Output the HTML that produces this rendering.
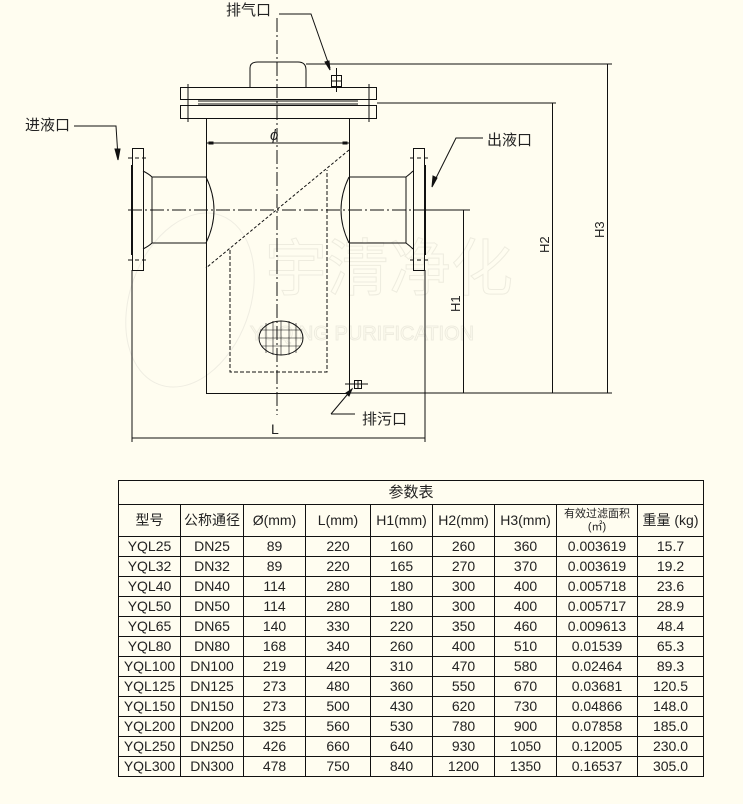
<!DOCTYPE html>
<html><head><meta charset="utf-8"><style>
body{margin:0;background:#fffdf0;width:743px;height:804px;overflow:hidden;position:relative;font-family:"Liberation Sans","Noto Sans CJK SC",sans-serif;}
svg{position:absolute;left:0;top:0}
table{position:absolute;left:118px;top:480px;border-collapse:collapse;font-size:14px;color:#222;}
td{border:1px solid #111;text-align:center;padding:0;height:19px;line-height:19px;white-space:nowrap;overflow:hidden}
</style></head><body>
<svg width="743" height="470" viewBox="0 0 743 470" fill="none" stroke="#111" stroke-width="1">
<text x="265" y="290" font-size="62" fill="none" stroke="#eeecdf" font-family="Noto Sans CJK SC,sans-serif">宇清净化</text>
<text x="250" y="340" font-size="20" fill="none" stroke="#eeecdf" font-family="Liberation Sans,sans-serif">YUQING PURIFICATION</text>
<ellipse cx="190" cy="300" rx="60" ry="90" stroke="#efede2" transform="rotate(20 190 300)"/>
<line x1="277" y1="18" x2="277" y2="415" stroke-dasharray="14,3,2,3"/>
<line x1="128" y1="210" x2="470" y2="210" stroke-dasharray="14,3,2,3"/>
<path d="M250 87 V68 Q250 62 258 62 H298 Q306 62 306 70 V87"/>
<rect x="180.5" y="87.5" width="196" height="12"/>
<rect x="180.5" y="105.5" width="196" height="13"/>
<line x1="198" y1="101" x2="358" y2="101"/><line x1="198" y1="104" x2="358" y2="104"/>
<line x1="188" y1="84" x2="188" y2="122"/><line x1="369" y1="84" x2="369" y2="122"/>
<rect x="331.5" y="75.5" width="10" height="11"/><line x1="331" y1="81" x2="342" y2="81"/><line x1="336.5" y1="68" x2="336.5" y2="92"/>
<rect x="206.5" y="118.5" width="143" height="275"/>
<line x1="206" y1="143" x2="349" y2="143"/><rect x="209" y="142" width="4" height="2" fill="#111"/><rect x="343" y="142" width="4" height="2" fill="#111"/>
<text x="270" y="140" font-size="15" fill="#222" stroke="none" font-style="italic">ϕ</text>
<rect x="132.5" y="148.5" width="11" height="122"/>
<line x1="132" y1="165" x2="132" y2="255" stroke-width="2"/>
<line x1="128" y1="158" x2="147" y2="158" stroke-dasharray="4,3"/><line x1="128" y1="260" x2="147" y2="260" stroke-dasharray="4,3"/>
<path d="M143 171 Q149 174 152 177 H206 M143 249 Q149 246 152 243 H206 M152 177 V243"/>
<path d="M206 177 Q222 210 206 243"/>
<rect x="413.5" y="148.5" width="11" height="122"/>
<line x1="425" y1="165" x2="425" y2="255" stroke-width="2"/>
<line x1="410" y1="158" x2="429" y2="158" stroke-dasharray="4,3"/><line x1="410" y1="260" x2="429" y2="260" stroke-dasharray="4,3"/>
<path d="M349 177 H406 Q410 174 413 171 M349 243 H406 Q410 246 413 249 M406 177 V243"/>
<path d="M349 177 Q333 210 349 243"/>
<line x1="349" y1="150" x2="206" y2="268" stroke-dasharray="3,2"/>
<path d="M230 250 V372 H327 V170" stroke-dasharray="4,2"/>
<ellipse cx="281" cy="338" rx="22" ry="17"/>
<g stroke-width="0.6"><line x1="260" y1="330" x2="302" y2="330"/><line x1="259" y1="338" x2="303" y2="338"/><line x1="261" y1="346" x2="301" y2="346"/>
<line x1="266" y1="323" x2="266" y2="353"/><line x1="273" y1="321" x2="273" y2="355"/><line x1="281" y1="321" x2="281" y2="355"/><line x1="289" y1="321" x2="289" y2="355"/><line x1="296" y1="323" x2="296" y2="353"/></g>
<rect x="354.5" y="380.5" width="7" height="8"/><line x1="345" y1="384" x2="368" y2="384"/><line x1="358" y1="380" x2="358" y2="389"/>
<path d="M331 414 L352 389"/><path d="M352 389 L346 393 L349 396 Z" fill="#111"/><line x1="331" y1="414" x2="355" y2="414"/>
<text x="362" y="424" font-size="15" fill="#222" stroke="none">排污口</text>
<line x1="132" y1="270" x2="132" y2="442"/><line x1="425" y1="270" x2="425" y2="442"/>
<line x1="132" y1="438" x2="425" y2="438"/>
<text x="271" y="434" font-size="14" fill="#222" stroke="none">L</text>
<line x1="349" y1="393" x2="612" y2="393"/>
<line x1="425" y1="210" x2="470" y2="210"/>
<line x1="463.5" y1="210" x2="463.5" y2="393"/>
<line x1="377" y1="103" x2="556" y2="103"/>
<line x1="552.5" y1="103" x2="552.5" y2="393"/>
<line x1="306" y1="64" x2="612" y2="64"/>
<line x1="607.5" y1="64" x2="607.5" y2="393"/>
<text font-size="13" fill="#222" stroke="none" transform="translate(460 312) rotate(-90)">H1</text>
<text font-size="13" fill="#222" stroke="none" transform="translate(549 253) rotate(-90)">H2</text>
<text font-size="13" fill="#222" stroke="none" transform="translate(604 238) rotate(-90)">H3</text>
<text x="226" y="15" font-size="15" fill="#222" stroke="none">排气口</text>
<path d="M279 14 H311 L330 68"/><path d="M330 70 L325 62 L329 61 Z" fill="#111"/>
<text x="25" y="130" font-size="15" fill="#222" stroke="none">进液口</text>
<path d="M74 126 H116 L118 157"/><path d="M118 160 L115 149 L120 149 Z" fill="#111"/>
<text x="487" y="145" font-size="15" fill="#222" stroke="none">出液口</text>
<path d="M483 138 H456 L433 184"/><path d="M432 187 L433 176 L437 178 Z" fill="#111"/>
</svg>
<table>
<tr><td colspan="9" style="height:23px;font-size:15px">参数表</td></tr>
<tr style="height:32px"><td style="width:61px">型号</td><td style="width:62px">公称通径</td><td style="width:61px">Ø(mm)</td><td style="width:64px">L(mm)</td><td style="width:61px">H1(mm)</td><td style="width:61px">H2(mm)</td><td style="width:61px">H3(mm)</td><td style="width:80px;font-size:11px;line-height:13px">有效过滤面积<br>(㎡)</td><td style="width:65px">重量 (kg)</td></tr>
<tr><td>YQL25</td><td>DN25</td><td>89</td><td>220</td><td>160</td><td>260</td><td>360</td><td>0.003619</td><td>15.7</td></tr>
<tr><td>YQL32</td><td>DN32</td><td>89</td><td>220</td><td>165</td><td>270</td><td>370</td><td>0.003619</td><td>19.2</td></tr>
<tr><td>YQL40</td><td>DN40</td><td>114</td><td>280</td><td>180</td><td>300</td><td>400</td><td>0.005718</td><td>23.6</td></tr>
<tr><td>YQL50</td><td>DN50</td><td>114</td><td>280</td><td>180</td><td>300</td><td>400</td><td>0.005717</td><td>28.9</td></tr>
<tr><td>YQL65</td><td>DN65</td><td>140</td><td>330</td><td>220</td><td>350</td><td>460</td><td>0.009613</td><td>48.4</td></tr>
<tr><td>YQL80</td><td>DN80</td><td>168</td><td>340</td><td>260</td><td>400</td><td>510</td><td>0.01539</td><td>65.3</td></tr>
<tr><td>YQL100</td><td>DN100</td><td>219</td><td>420</td><td>310</td><td>470</td><td>580</td><td>0.02464</td><td>89.3</td></tr>
<tr><td>YQL125</td><td>DN125</td><td>273</td><td>480</td><td>360</td><td>550</td><td>670</td><td>0.03681</td><td>120.5</td></tr>
<tr><td>YQL150</td><td>DN150</td><td>273</td><td>500</td><td>430</td><td>620</td><td>730</td><td>0.04866</td><td>148.0</td></tr>
<tr><td>YQL200</td><td>DN200</td><td>325</td><td>560</td><td>530</td><td>780</td><td>900</td><td>0.07858</td><td>185.0</td></tr>
<tr><td>YQL250</td><td>DN250</td><td>426</td><td>660</td><td>640</td><td>930</td><td>1050</td><td>0.12005</td><td>230.0</td></tr>
<tr><td>YQL300</td><td>DN300</td><td>478</td><td>750</td><td>840</td><td>1200</td><td>1350</td><td>0.16537</td><td>305.0</td></tr>
</table>
</body></html>
